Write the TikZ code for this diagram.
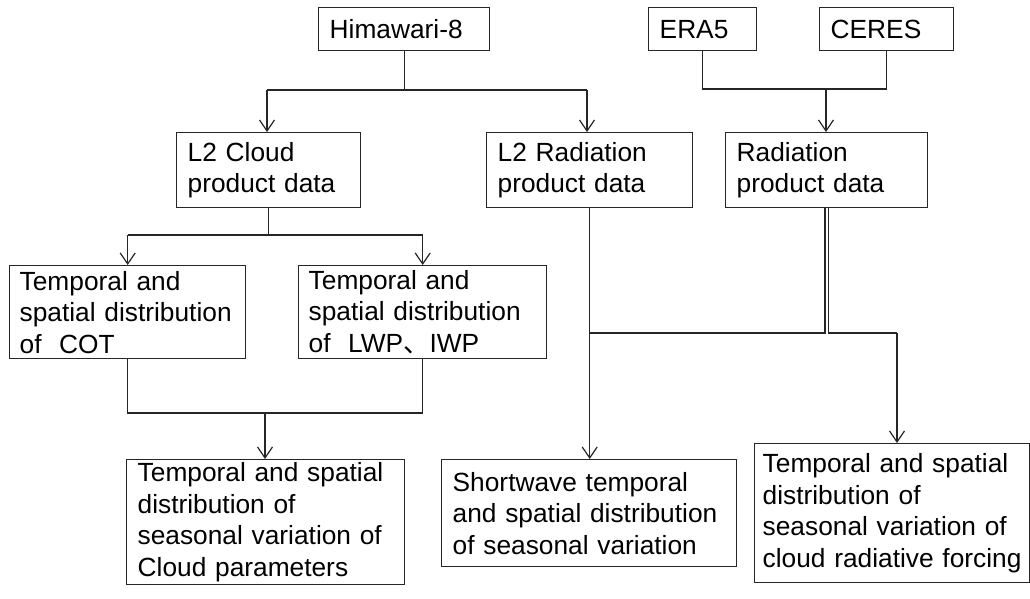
\documentclass[tikz,border=0pt]{standalone}
\usepackage{fontspec}
\setmainfont{Liberation Sans}
\newfontfamily\cjk{Noto Sans CJK SC}
\usetikzlibrary{arrows.meta}
\newcommand\bxfont{\fontsize{26.3}{31.5}\selectfont\hyphenpenalty=10000\relax\exhyphenpenalty=10000\relax}
\tikzset{
  box/.style={draw=black!85, line width=1.4pt, anchor=north west, align=left,
    inner xsep=11pt, inner ysep=0pt, font=\bxfont, text=black},
  conn/.style={draw=black!85, line width=1.3pt},
  arr/.style={conn, -{Straight Barb[length=11pt,width=15pt,line width=1.2pt]}},
}
\begin{document}
\hyphenpenalty=10000
\begin{tikzpicture}[x=1pt,y=-1pt]
\useasboundingbox (0,0) rectangle (1030,599);
% boxes
\node[box, text width=149pt, minimum height=43pt] (him) at (318,7) {Himawari-8};
\node[box, text width=86pt, minimum height=43pt] (era) at (648,7) {ERA5};
\node[box, text width=112pt, minimum height=43pt] (ceres) at (819,7) {CERES};
\node[box, text width=162pt, minimum height=75pt] (l2c) at (176,132) {L2 Cloud\\product data};
\node[box, text width=184pt, minimum height=75pt] (l2r) at (486,132) {L2 Radiation\\product data};
\node[box, text width=180pt, minimum height=75pt] (rad) at (725,132) {Radiation\\product data};
\node[box, text width=216pt, inner xsep=10pt, minimum height=93pt] (cot) at (9,265) {Temporal and\\\mbox{spatial distribution}\\of\ \ COT};
\node[box, text width=228pt, inner xsep=10pt, minimum height=93pt] (lwp) at (298,265) {Temporal and\\\mbox{spatial distribution}\\of\ \ LWP{\cjk 、}IWP};
\node[box, text width=256pt, minimum height=125pt] (cpar) at (126,459) {\mbox{Temporal and spatial}\\distribution of\\\mbox{seasonal variation of}\\Cloud parameters};
\node[box, text width=273pt, minimum height=107pt] (sw) at (441,459) {Shortwave temporal\\\mbox{and spatial distribution}\\of seasonal variation};
\node[box, text width=259pt, inner xsep=8pt, minimum height=139pt] (crf) at (754,443) {\mbox{Temporal and spatial}\\distribution of\\\mbox{seasonal variation of}\\\mbox{cloud radiative forcing}};
% rail coordinates
\coordinate (r1L) at (267,90);
\coordinate (r1R) at (587,90);
\coordinate (r2) at (826,89);
\coordinate (r3) at (267,235);
\coordinate (r4) at (265,413);
\coordinate (r5) at (897,333);
% Himawari
\draw[conn] (him.south) -- (him.south |- r1L);
\draw[conn] (r1L) -- (r1R);
\draw[arr] (r1L) -- (l2c.north -| r1L);
\draw[arr] (r1R) -- (l2r.north -| r1R);
% ERA5 / CERES
\draw[conn] (era.south) |- (r2) -| (ceres.south);
\draw[arr] (r2) -- (rad.north -| r2);
% L2 cloud split
\draw[conn] (l2c.south) -- (l2c.south |- r3);
\draw[conn] (cot.north |- r3) -- (lwp.north |- r3);
\draw[arr] (cot.north |- r3) -- (cot.north);
\draw[arr] (lwp.north |- r3) -- (lwp.north);
% COT / LWP join
\draw[conn] (cot.south) |- (r4) -| (lwp.south);
\draw[arr] (r4) -- (cpar.north -| r4);
% L2 radiation
\draw[arr] (l2r.south) -- (sw.north -| l2r.south);
% Radiation product data
\draw[conn] ([xshift=-1.6pt]rad.south) |- (l2r.south |- r5);
\draw[conn] ([xshift=1.6pt]rad.south) |- (r5);
\draw[arr] (r5) -- (crf.north -| r5);
\end{tikzpicture}
\end{document}
